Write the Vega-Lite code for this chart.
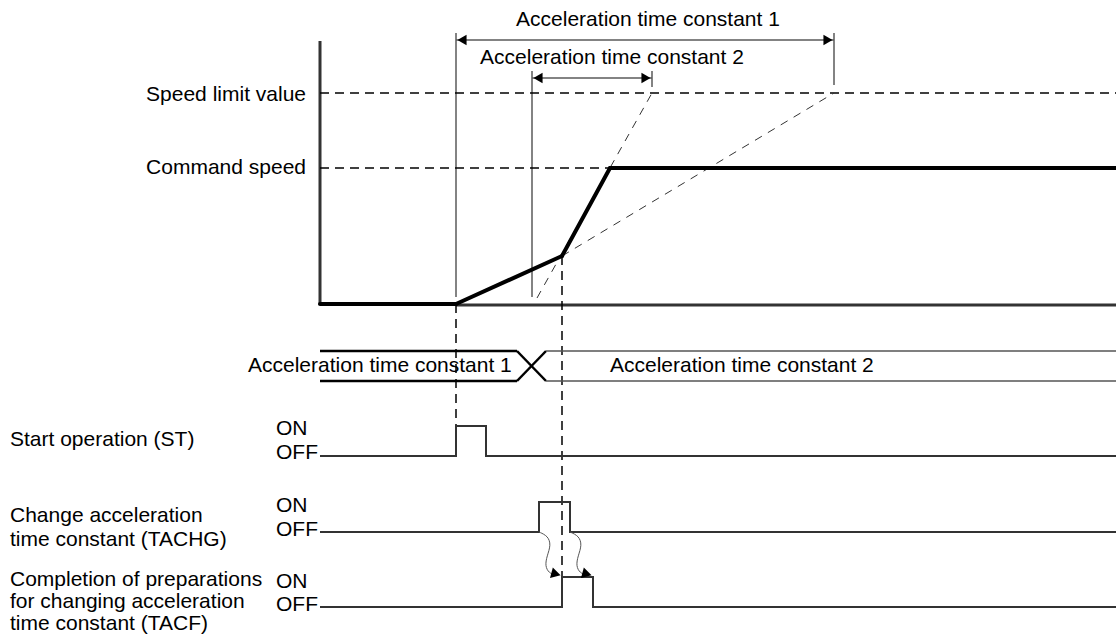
{
  "$schema": "https://vega.github.io/schema/vega-lite/v6.json",
  "width": 1116,
  "height": 637,
  "padding": 0,
  "autosize": {"type": "none"},
  "background": "white",
  "config": {"view": {"stroke": null}, "text": {"font": "Liberation Sans", "fontSize": 21, "color": "#000000"}},
  "datasets": {
    "profile": [
      {"x": 320, "y": 304, "x2": 456, "y2": 304},
      {"x": 456, "y": 304, "x2": 562, "y2": 256},
      {"x": 562, "y": 256, "x2": 610, "y2": 168},
      {"x": 610, "y": 168, "x2": 1116, "y2": 168}
    ],
    "axisLines": [
      {"x": 320, "y": 41, "x2": 320, "y2": 305},
      {"x": 456, "y": 305, "x2": 1116, "y2": 305}
    ],
    "extLines": [
      {"x": 456, "y": 33, "x2": 456, "y2": 297},
      {"x": 834, "y": 33, "x2": 834, "y2": 85},
      {"x": 532, "y": 71, "x2": 532, "y2": 297},
      {"x": 652, "y": 71, "x2": 652, "y2": 87},
      {"x": 456, "y": 40, "x2": 834, "y2": 40},
      {"x": 532, "y": 78, "x2": 652, "y2": 78}
    ],
    "dimLeft": [{"x": 462, "y": 40}, {"x": 538, "y": 78}],
    "dimRight": [{"x": 828, "y": 40}, {"x": 646, "y": 78}],
    "dashedLevels": [
      {"x": 320, "y": 93, "x2": 1116, "y2": 93},
      {"x": 320, "y": 168, "x2": 610, "y2": 168},
      {"x": 456, "y": 304, "x2": 456, "y2": 426},
      {"x": 562, "y": 256, "x2": 562, "y2": 577}
    ],
    "dashedSlopes": [
      {"x": 537, "y": 298, "x2": 652, "y2": 93},
      {"x": 562, "y": 256, "x2": 834, "y2": 93}
    ],
    "band1": [
      {"x": 320, "y": 351, "x2": 517, "y2": 351},
      {"x": 320, "y": 381, "x2": 517, "y2": 381},
      {"x": 517, "y": 351, "x2": 546, "y2": 381},
      {"x": 517, "y": 381, "x2": 546, "y2": 351}
    ],
    "band2": [
      {"x": 546, "y": 351, "x2": 1116, "y2": 351},
      {"x": 546, "y": 381, "x2": 1116, "y2": 381}
    ],
    "signals": [
      {"signal": "ST", "step": 1, "x": 320, "y": 456},
      {"signal": "ST", "step": 2, "x": 456, "y": 456},
      {"signal": "ST", "step": 3, "x": 456, "y": 426},
      {"signal": "ST", "step": 4, "x": 486, "y": 426},
      {"signal": "ST", "step": 5, "x": 486, "y": 456},
      {"signal": "ST", "step": 6, "x": 1116, "y": 456},
      {"signal": "TACHG", "step": 1, "x": 320, "y": 532},
      {"signal": "TACHG", "step": 2, "x": 539, "y": 532},
      {"signal": "TACHG", "step": 3, "x": 539, "y": 502},
      {"signal": "TACHG", "step": 4, "x": 570, "y": 502},
      {"signal": "TACHG", "step": 5, "x": 570, "y": 532},
      {"signal": "TACHG", "step": 6, "x": 1116, "y": 532},
      {"signal": "TACF", "step": 1, "x": 320, "y": 607},
      {"signal": "TACF", "step": 2, "x": 562, "y": 607},
      {"signal": "TACF", "step": 3, "x": 562, "y": 577},
      {"signal": "TACF", "step": 4, "x": 593, "y": 577},
      {"signal": "TACF", "step": 5, "x": 593, "y": 607},
      {"signal": "TACF", "step": 6, "x": 1116, "y": 607}
    ],
    "waves": [
      {"w": "a", "step": 1, "x": 539, "y": 532},
      {"w": "a", "step": 2, "x": 548, "y": 536},
      {"w": "a", "step": 3, "x": 551, "y": 545},
      {"w": "a", "step": 4, "x": 547, "y": 556},
      {"w": "a", "step": 5, "x": 545, "y": 566},
      {"w": "a", "step": 6, "x": 549, "y": 573},
      {"w": "a", "step": 7, "x": 555, "y": 575},
      {"w": "b", "step": 1, "x": 570, "y": 532},
      {"w": "b", "step": 2, "x": 579, "y": 536},
      {"w": "b", "step": 3, "x": 582, "y": 545},
      {"w": "b", "step": 4, "x": 578, "y": 556},
      {"w": "b", "step": 5, "x": 576, "y": 566},
      {"w": "b", "step": 6, "x": 580, "y": 573},
      {"w": "b", "step": 7, "x": 586, "y": 575}
    ],
    "waveHeads": [{"x": 556, "y": 574}, {"x": 587, "y": 574}],
    "labelsRight": [
      {"text": "Speed limit value", "x": 306, "y": 95},
      {"text": "Command speed", "x": 306, "y": 168}
    ],
    "labelsCenter": [
      {"text": "Acceleration time constant 1", "x": 648, "y": 20},
      {"text": "Acceleration time constant 2", "x": 612, "y": 58}
    ],
    "labelsLeft": [
      {"text": "Acceleration time constant 1", "x": 248, "y": 366},
      {"text": "Acceleration time constant 2", "x": 610, "y": 366},
      {"text": "Start operation (ST)", "x": 10, "y": 440},
      {"text": "ON", "x": 276, "y": 429},
      {"text": "OFF", "x": 276, "y": 453},
      {"text": "Change acceleration", "x": 10, "y": 516},
      {"text": "time constant (TACHG)", "x": 10, "y": 540},
      {"text": "ON", "x": 276, "y": 506},
      {"text": "OFF", "x": 276, "y": 530},
      {"text": "Completion of preparations", "x": 10, "y": 580},
      {"text": "for changing acceleration", "x": 10, "y": 602},
      {"text": "time constant (TACF)", "x": 10, "y": 624},
      {"text": "ON", "x": 276, "y": 582},
      {"text": "OFF", "x": 276, "y": 605}
    ]
  },
  "encoding": {
    "x": {"field": "x", "type": "quantitative", "axis": null, "scale": {"domain": [0, 1116], "nice": false, "zero": false}},
    "y": {"field": "y", "type": "quantitative", "axis": null, "scale": {"domain": [0, 637], "nice": false, "zero": false, "reverse": true}}
  },
  "layer": [
    {"data": {"name": "axisLines"}, "mark": {"type": "rule", "color": "#333333", "strokeWidth": 3},
     "encoding": {"x2": {"field": "x2"}, "y2": {"field": "y2"}}},
    {"data": {"name": "extLines"}, "mark": {"type": "rule", "color": "#5a5a5a", "strokeWidth": 1.5},
     "encoding": {"x2": {"field": "x2"}, "y2": {"field": "y2"}}},
    {"data": {"name": "dashedLevels"}, "mark": {"type": "rule", "color": "#000000", "strokeWidth": 1.5, "strokeDash": [9, 6]},
     "encoding": {"x2": {"field": "x2"}, "y2": {"field": "y2"}}},
    {"data": {"name": "dashedSlopes"}, "mark": {"type": "rule", "color": "#333333", "strokeWidth": 1, "strokeDash": [8, 7]},
     "encoding": {"x2": {"field": "x2"}, "y2": {"field": "y2"}}},
    {"data": {"name": "profile"}, "mark": {"type": "rule", "color": "#000000", "strokeWidth": 4, "strokeCap": "round"},
     "encoding": {"x2": {"field": "x2"}, "y2": {"field": "y2"}}},
    {"data": {"name": "band1"}, "mark": {"type": "rule", "color": "#000000", "strokeWidth": 2.5},
     "encoding": {"x2": {"field": "x2"}, "y2": {"field": "y2"}}},
    {"data": {"name": "band2"}, "mark": {"type": "rule", "color": "#555555", "strokeWidth": 1.5},
     "encoding": {"x2": {"field": "x2"}, "y2": {"field": "y2"}}},
    {"data": {"name": "signals"}, "mark": {"type": "line", "color": "#333333", "strokeWidth": 2, "strokeJoin": "miter"},
     "encoding": {"detail": {"field": "signal"}, "order": {"field": "step", "type": "quantitative"}}},
    {"data": {"name": "waves"}, "mark": {"type": "line", "color": "#555555", "strokeWidth": 1, "interpolate": "basis"},
     "encoding": {"detail": {"field": "w"}, "order": {"field": "step", "type": "quantitative"}}},
    {"data": {"name": "waveHeads"}, "mark": {"type": "point", "shape": "triangle-right", "filled": true, "color": "#000000", "size": 120, "angle": 15, "opacity": 1}},
    {"data": {"name": "dimLeft"}, "mark": {"type": "point", "shape": "triangle-left", "filled": true, "color": "#000000", "size": 110, "opacity": 1}},
    {"data": {"name": "dimRight"}, "mark": {"type": "point", "shape": "triangle-right", "filled": true, "color": "#000000", "size": 110, "opacity": 1}},
    {"data": {"name": "labelsRight"}, "mark": {"type": "text", "align": "right", "baseline": "middle"},
     "encoding": {"text": {"field": "text"}}},
    {"data": {"name": "labelsCenter"}, "mark": {"type": "text", "align": "center", "baseline": "middle"},
     "encoding": {"text": {"field": "text"}}},
    {"data": {"name": "labelsLeft"}, "mark": {"type": "text", "align": "left", "baseline": "middle"},
     "encoding": {"text": {"field": "text"}}}
  ]
}
